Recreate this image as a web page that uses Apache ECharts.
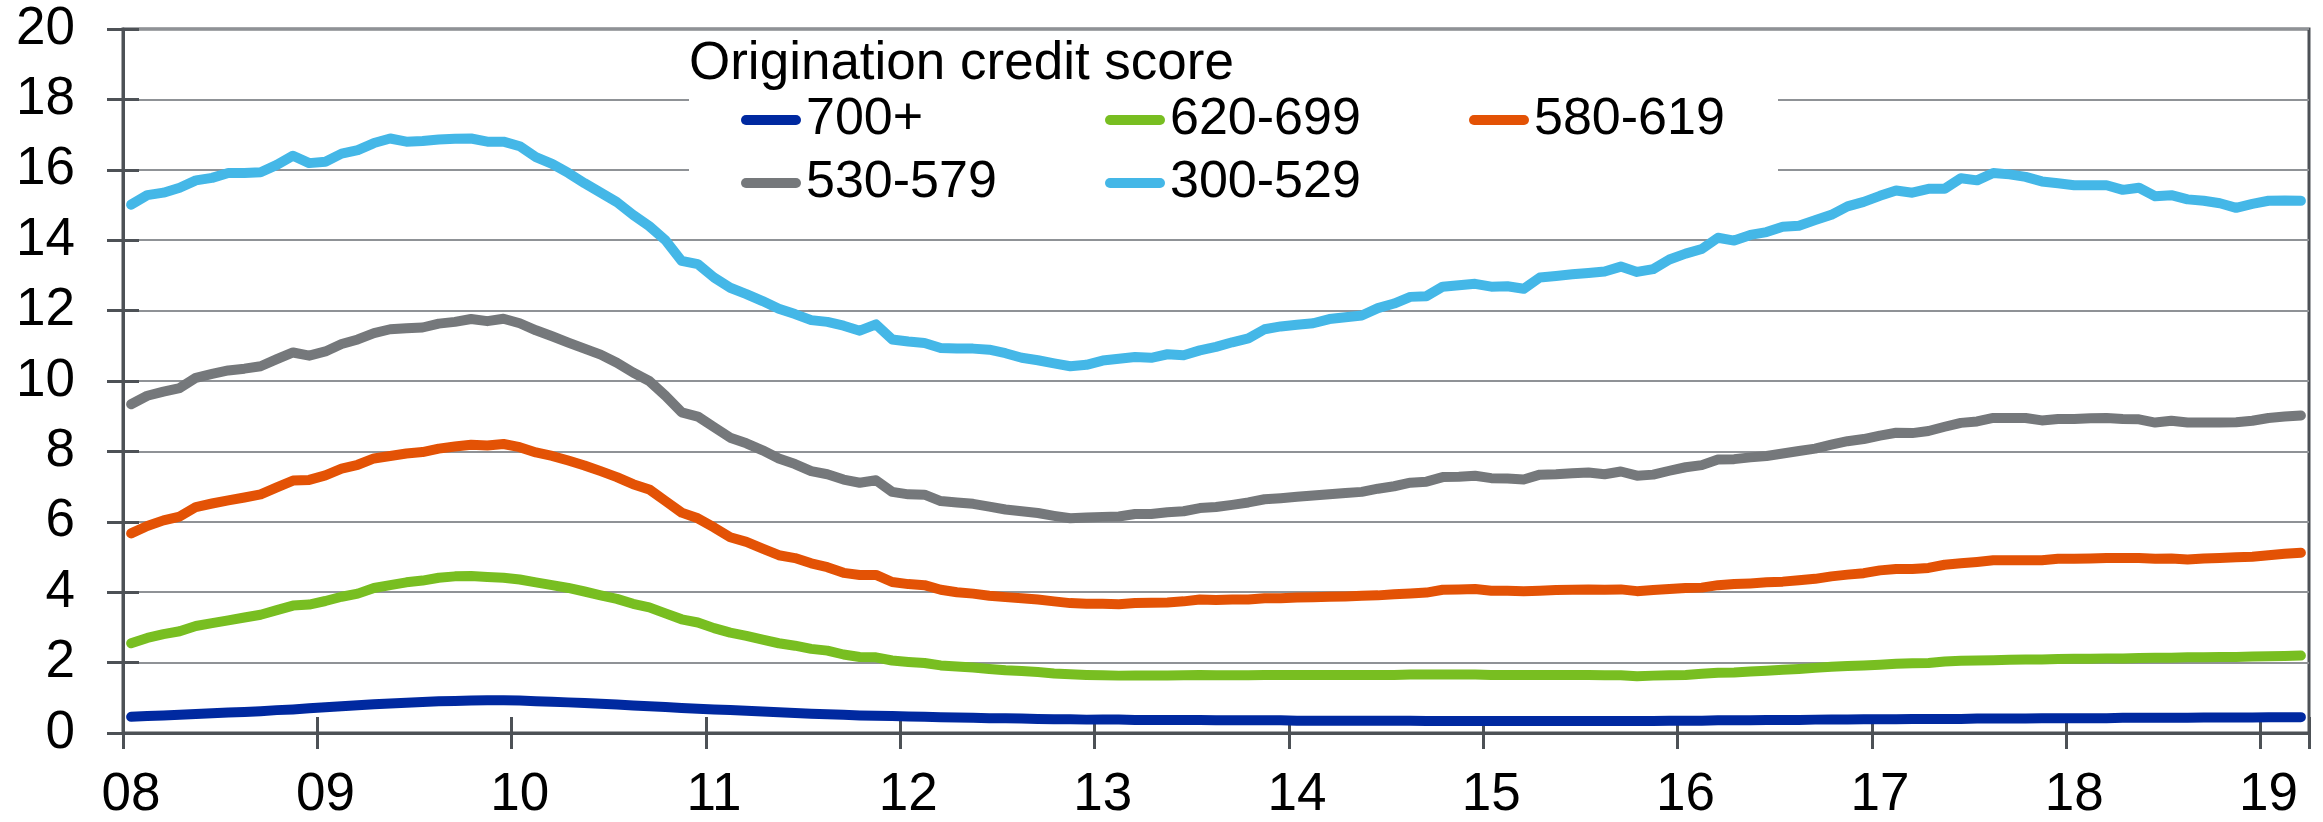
<!DOCTYPE html>
<html>
<head>
<meta charset="utf-8">
<script src="https://cdn.jsdelivr.net/npm/echarts@6/dist/echarts.min.js"></script>
<style>
  html, body { margin: 0; padding: 0; background: #fff; }
  #chart { width: 2323px; height: 822px; }
</style>
</head>
<body>
<div id="chart"></div>
<script>
// monthly, Jan 2008 .. Mar 2019
const years = ['08', '09', '10', '11', '12', '13', '14', '15', '16', '17', '18', '19'];
const lastYearMonths = 3;
const categories = [];
years.forEach((y, yi) => {
  const n = yi === years.length - 1 ? lastYearMonths : 12;
  for (let m = 1; m <= n; m++) categories.push(y + '-' + String(m).padStart(2, '0'));
});

const seriesNames = ['700+', '620-699', '580-619', '530-579', '300-529'];
const seriesColors = ['#0029A0', '#78BE21', '#E35205', '#75787B', '#44B7E7'];

const score700 = [
  0.46, 0.48, 0.50, 0.52, 0.54, 0.56, 0.58, 0.60, 0.62, 0.65, 0.67, 0.70,
  0.73, 0.76, 0.79, 0.82, 0.84, 0.86, 0.88, 0.90, 0.91, 0.92, 0.93, 0.93,
  0.92, 0.90, 0.89, 0.87, 0.85, 0.83, 0.81, 0.78, 0.76, 0.74, 0.71, 0.69,
  0.67, 0.65, 0.63, 0.61, 0.59, 0.57, 0.55, 0.53, 0.52, 0.50, 0.49, 0.48,
  0.47, 0.46, 0.45, 0.44, 0.43, 0.42, 0.42, 0.41, 0.40, 0.39, 0.39, 0.38,
  0.38, 0.38, 0.37, 0.37, 0.37, 0.37, 0.37, 0.36, 0.36, 0.36, 0.36, 0.36,
  0.35, 0.35, 0.35, 0.35, 0.35, 0.35, 0.35, 0.35, 0.34, 0.34, 0.34, 0.34,
  0.34, 0.34, 0.34, 0.34, 0.34, 0.34, 0.34, 0.34, 0.34, 0.34, 0.34, 0.35,
  0.35, 0.35, 0.36, 0.36, 0.36, 0.37, 0.37, 0.37, 0.38, 0.38, 0.38, 0.39,
  0.39, 0.39, 0.40, 0.40, 0.40, 0.40, 0.41, 0.41, 0.41, 0.41, 0.42, 0.42,
  0.42, 0.42, 0.42, 0.43, 0.43, 0.43, 0.43, 0.43, 0.44, 0.44, 0.44, 0.44, 0.45, 0.45, 0.45
];

const score620 = [
  2.55, 2.70, 2.81, 2.89, 3.04, 3.12, 3.20, 3.28, 3.36, 3.49, 3.62, 3.65, 3.75, 3.87, 3.96, 4.12, 4.20, 4.28, 4.33, 4.41, 4.45, 4.46, 4.43,
  4.41, 4.36, 4.28, 4.20, 4.12, 4.02, 3.91, 3.81, 3.67, 3.57, 3.40, 3.23, 3.14, 2.98, 2.85, 2.76, 2.65, 2.55, 2.48, 2.39, 2.34, 2.23, 2.16,
  2.15, 2.06, 2.02, 1.99, 1.92, 1.89, 1.86, 1.82, 1.78, 1.76, 1.73, 1.69, 1.67, 1.65, 1.64, 1.63, 1.63, 1.63, 1.63, 1.64, 1.65, 1.64, 1.64,
  1.64, 1.65, 1.65, 1.65, 1.65, 1.65, 1.65, 1.65, 1.65, 1.65, 1.66, 1.66, 1.66, 1.66, 1.66, 1.65, 1.65, 1.65, 1.65, 1.65, 1.65, 1.65, 1.64,
  1.64, 1.61, 1.63, 1.64, 1.65, 1.68, 1.71, 1.72, 1.75, 1.77, 1.80, 1.82, 1.85, 1.88, 1.90, 1.92, 1.94, 1.97, 1.98, 1.99, 2.03, 2.05, 2.06,
  2.07, 2.08, 2.09, 2.09, 2.10, 2.11, 2.11, 2.12, 2.12, 2.13, 2.14, 2.14, 2.15, 2.15, 2.16, 2.16, 2.17, 2.18, 2.19, 2.20
];

const score580 = [
  5.67, 5.88, 6.04, 6.15, 6.42, 6.52, 6.61, 6.69, 6.78, 6.98, 7.17, 7.19, 7.32, 7.51, 7.62, 7.80, 7.87, 7.94, 7.98, 8.08, 8.14, 8.19, 8.17,
  8.21, 8.12, 7.97, 7.87, 7.74, 7.60, 7.44, 7.27, 7.07, 6.92, 6.59, 6.26, 6.10, 5.84, 5.56, 5.43, 5.24, 5.05, 4.97, 4.82, 4.71, 4.55, 4.49,
  4.49, 4.29, 4.23, 4.20, 4.07, 4.00, 3.96, 3.90, 3.86, 3.83, 3.79, 3.74, 3.69, 3.67, 3.67, 3.66, 3.69, 3.70, 3.71, 3.74, 3.79, 3.78, 3.79,
  3.79, 3.83, 3.83, 3.85, 3.86, 3.87, 3.88, 3.90, 3.91, 3.94, 3.96, 3.99, 4.07, 4.08, 4.09, 4.04, 4.04, 4.03, 4.04, 4.06, 4.07, 4.08, 4.07,
  4.08, 4.03, 4.06, 4.09, 4.12, 4.13, 4.20, 4.23, 4.25, 4.28, 4.30, 4.34, 4.38, 4.45, 4.50, 4.54, 4.62, 4.66, 4.66, 4.69, 4.78, 4.82, 4.86,
  4.91, 4.91, 4.91, 4.91, 4.95, 4.95, 4.96, 4.97, 4.97, 4.97, 4.95, 4.96, 4.93, 4.96, 4.97, 4.99, 5.01, 5.05, 5.09, 5.12
];

const score530 = [
  9.34, 9.58, 9.70, 9.80, 10.09, 10.20, 10.30, 10.35, 10.42, 10.62, 10.81, 10.72, 10.84, 11.05, 11.18, 11.36, 11.47, 11.50, 11.52, 11.63, 11.68, 11.76, 11.70,
  11.77, 11.64, 11.44, 11.27, 11.09, 10.92, 10.75, 10.52, 10.24, 10.00, 9.58, 9.11, 8.99, 8.69, 8.39, 8.23, 8.03, 7.80, 7.64, 7.44, 7.35, 7.20, 7.11,
  7.18, 6.85, 6.78, 6.77, 6.59, 6.55, 6.51, 6.43, 6.35, 6.30, 6.25, 6.17, 6.10, 6.12, 6.14, 6.15, 6.22, 6.22, 6.27, 6.30, 6.39, 6.42, 6.48,
  6.55, 6.64, 6.67, 6.71, 6.75, 6.78, 6.82, 6.85, 6.94, 7.01, 7.11, 7.14, 7.27, 7.28, 7.31, 7.24, 7.23, 7.20, 7.34, 7.35, 7.38, 7.40, 7.35,
  7.43, 7.31, 7.34, 7.45, 7.55, 7.61, 7.77, 7.78, 7.83, 7.87, 7.94, 8.01, 8.08, 8.19, 8.29, 8.35, 8.45, 8.53, 8.52, 8.58, 8.70, 8.81, 8.85,
  8.95, 8.95, 8.95, 8.88, 8.92, 8.92, 8.94, 8.95, 8.92, 8.91, 8.82, 8.87, 8.82, 8.82, 8.82, 8.83, 8.87, 8.95, 8.99, 9.02
];

const score300 = [
  15.01, 15.28, 15.35, 15.49, 15.70, 15.77, 15.91, 15.91, 15.93, 16.14, 16.40, 16.19, 16.23, 16.46, 16.56, 16.76, 16.89, 16.80, 16.82, 16.86, 16.88, 16.89, 16.80,
  16.80, 16.67, 16.36, 16.17, 15.91, 15.62, 15.35, 15.08, 14.72, 14.40, 14.00, 13.41, 13.32, 12.94, 12.65, 12.47, 12.27, 12.05, 11.90, 11.73, 11.68, 11.57, 11.43,
  11.61, 11.18, 11.12, 11.08, 10.94, 10.92, 10.92, 10.89, 10.79, 10.66, 10.59, 10.50, 10.42, 10.46, 10.58, 10.63, 10.68, 10.66, 10.76, 10.73, 10.87, 10.97, 11.10,
  11.21, 11.47, 11.55, 11.60, 11.64, 11.76, 11.81, 11.86, 12.07, 12.20, 12.39, 12.41, 12.68, 12.72, 12.76, 12.68, 12.69, 12.62, 12.94, 12.98, 13.03, 13.07, 13.11,
  13.25, 13.10, 13.18, 13.45, 13.62, 13.75, 14.07, 13.99, 14.15, 14.23, 14.38, 14.41, 14.57, 14.72, 14.96, 15.09, 15.26, 15.41, 15.35, 15.46, 15.46, 15.76, 15.70,
  15.91, 15.87, 15.80, 15.67, 15.62, 15.56, 15.56, 15.56, 15.43, 15.49, 15.25, 15.28, 15.16, 15.12, 15.05, 14.92, 15.03, 15.12, 15.13, 15.12
];

const seriesData = [score700, score620, score580, score530, score300];

const fontFamily = '"Liberation Sans", Arial, sans-serif';
const axisColor = '#4D5156';
const gridColor = '#8F9296';
const isJan = (i) => i % 12 === 0;
const tickStyle = { color: axisColor, width: 3 };

const chart = echarts.init(document.getElementById('chart'));

const option = {
  animation: false,
  backgroundColor: '#fff',
  textStyle: { fontFamily: fontFamily },
  grid: {
    left: 123,
    right: 14,
    top: 29,
    bottom: 84,
    show: true,
    borderColor: axisColor,
    borderWidth: 3
  },
  title: {
    text: 'Origination credit score',
    left: 689,
    top: 38,
    padding: 0,
    z: 10,
    textStyle: { fontSize: 53, fontWeight: 'normal', color: '#000', lineHeight: 53, fontFamily: fontFamily }
  },
  graphic: [{
    type: 'rect',
    z: 3,
    shape: { x: 689, y: 36, width: 1089, height: 184 },
    style: { fill: '#fff' },
    silent: true
  }],
  legend: {
    data: seriesNames,
    left: 741,
    top: 88.5,
    width: 1100,
    padding: 0,
    itemGap: 0,
    itemWidth: 60,
    itemHeight: 10,
    z: 10,
    selectedMode: false,
    icon: 'path://M5,0 H55 A5,5 0 0 1 55,10 H5 A5,5 0 0 1 5,0 Z',
    textStyle: { fontSize: 52, color: '#000', width: 299, lineHeight: 63, fontFamily: fontFamily }
  },
  xAxis: [{
    type: 'category',
    data: categories,
    boundaryGap: true,
    position: 'bottom',
    axisLine: { show: true, lineStyle: { color: axisColor, width: 3 } },
    axisTick: { show: true, inside: false, length: 16, interval: isJan, alignWithLabel: false, lineStyle: tickStyle },
    axisLabel: {
      interval: isJan,
      formatter: (v) => v.slice(0, 2),
      margin: 36,
      fontSize: 53,
      color: '#000',
      fontFamily: fontFamily
    },
    splitLine: { show: false }
  }, {
    type: 'category',
    data: categories,
    boundaryGap: true,
    position: 'bottom',
    axisLine: { show: false },
    axisTick: { show: true, inside: true, length: 16, interval: isJan, alignWithLabel: false, lineStyle: tickStyle },
    axisLabel: { show: false },
    splitLine: { show: false }
  }],
  yAxis: [{
    type: 'value',
    min: 0,
    max: 20,
    interval: 2,
    position: 'left',
    axisLine: { show: true, lineStyle: { color: axisColor, width: 3 } },
    axisTick: { show: true, inside: false, length: 16, lineStyle: tickStyle },
    axisLabel: { margin: 48, fontSize: 53, color: '#000', fontFamily: fontFamily },
    splitLine: { show: true, lineStyle: { color: gridColor, width: 2 } }
  }, {
    type: 'value',
    min: 0,
    max: 20,
    interval: 2,
    position: 'left',
    axisLine: { show: false },
    axisTick: { show: true, inside: true, length: 16, lineStyle: tickStyle },
    axisLabel: { show: false },
    splitLine: { show: false }
  }],
  series: seriesNames.map((name, k) => ({
    name: name,
    type: 'line',
    xAxisIndex: 0,
    yAxisIndex: 0,
    data: seriesData[k],
    showSymbol: false,
    symbol: 'none',
    color: seriesColors[k],
    lineStyle: { width: 10, color: seriesColors[k], cap: 'round', join: 'round' },
    emphasis: { disabled: true }
  }))
};

chart.setOption(option);
</script>
</body>
</html>
